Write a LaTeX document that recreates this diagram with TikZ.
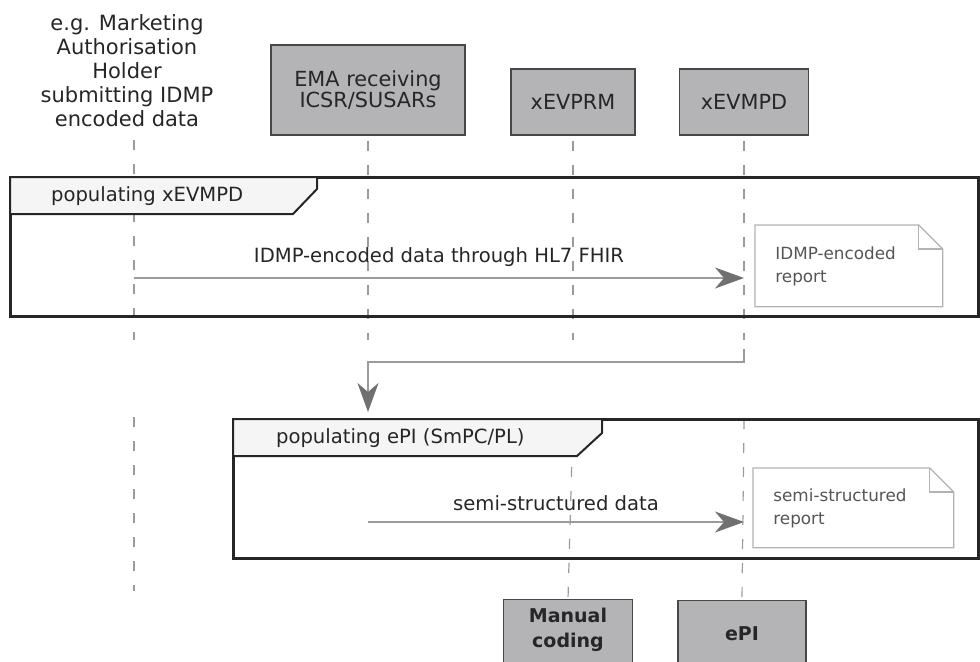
\documentclass[tikz,border=0pt]{standalone}
\usepackage{fontspec}
\setmainfont{DejaVu Sans}
\usetikzlibrary{arrows.meta}
\definecolor{boxgray}{RGB}{180,180,183}
\definecolor{tabgray}{RGB}{245,245,245}
\definecolor{inkgray}{RGB}{38,38,38}
\definecolor{linegray}{RGB}{155,155,155}
\definecolor{tipgray}{RGB}{112,112,112}
\definecolor{notegray}{RGB}{178,178,178}
\definecolor{notetext}{RGB}{85,85,85}
\begin{document}
\begin{tikzpicture}[x=0.5pt, y=-0.5pt, text=inkgray,
  actor/.style={draw=inkgray!85, line width=0.7pt, fill=boxgray, align=center,
    font=\fontsize{10.4}{10.5}\selectfont},
  lifeline/.style={draw=linegray, line width=0.6pt, dash pattern=on 5pt off 7pt},
  frameline/.style={draw=inkgray, line width=1.5pt},
  tabline/.style={draw=inkgray, line width=1pt, fill=tabgray},
  msg/.style={draw=linegray, line width=0.7pt,
    -{Stealth[length=14.5pt, width=10.5pt, inset=4.5pt, color=tipgray]}},
  note/.style={anchor=north west, align=left, inner xsep=10pt, text=notetext,
    font=\fontsize{8.4}{11.5}\selectfont},
  noteline/.style={draw=notegray, line width=0.6pt, line join=miter}]
  \useasboundingbox (0,0) rectangle (980,661);
  \clip (0,0) rectangle (980,661);
  % Participants (top)
  \node[align=center, font=\fontsize{10.5}{12}\selectfont] (mah) at (127,71)
    {e.g. Marketing\\Authorisation\\Holder\\submitting IDMP\\encoded data};
  \node[actor, minimum width=97pt, minimum height=45pt] (ema) at (368,90)
    {EMA receiving\\ICSR/SUSARs};
  \node[actor, minimum width=62pt, minimum height=33pt] (xevprm) at (573,102) {xEVPRM};
  \node[actor, minimum width=64.5pt, minimum height=33pt] (xevmpd) at (744,102) {xEVMPD};
  % Participants (bottom, cut by the page edge)
  \node[actor, anchor=north, minimum width=64.5pt, minimum height=45pt] (manualbox) at (568,599) {};
  \node[align=center, font=\fontsize{9.5}{12.5}\selectfont\bfseries] (manual) at (568,630) {Manual\\coding};
  \node[actor, anchor=north, minimum width=64pt, minimum height=45pt] (epibox) at (742,600) {};
  \node[font=\fontsize{9.5}{12.5}\selectfont\bfseries] (epi) at (742,634) {ePI};
  % Cuts of the lifelines between the two frames
  \coordinate (cutA) at (0,340);
  \coordinate (cutB) at (0,419);
  \coordinate (mahtop) at (134,140);
  \coordinate (mahend) at (134,591);
  % Lifelines (dashed vertical)
  \draw[lifeline] (mahtop) -- (mahtop |- cutA);
  \draw[lifeline] (ema.south) ++(0,5) -- (ema |- cutA);
  \draw[lifeline] (xevprm.south) ++(0,5) -- (xevprm |- cutA);
  \draw[lifeline] (xevmpd.south) ++(0,5) -- (xevmpd |- cutA);
  \draw[lifeline] (mahtop |- 0,417) -- (mahend);
  \draw[lifeline] (xevprm |- cutB) -- (manualbox.north);
  \draw[lifeline] (xevmpd |- cutB) -- (epibox.north);
  % Frame: populating xEVMPD
  \draw[frameline] (10,177) rectangle (978,316);
  \draw[tabline] (10,177) -- (317,177) -- (317,189) -- (293,214) -- (10,214) -- cycle;
  \node[anchor=west, font=\fontsize{9.8}{12}\selectfont] (frameA) at (44,196) {populating xEVMPD};
  % Frame: populating ePI
  \draw[frameline] (233,419) rectangle (978,558);
  \draw[tabline] (233,419) -- (602,419) -- (602,433) -- (577,456) -- (233,456) -- cycle;
  \node[anchor=west, font=\fontsize{9.8}{12}\selectfont] (frameB) at (269,438) {populating ePI (SmPC/PL)};
  % Messages
  \coordinate (m1s) at (mahtop |- 0,278);
  \coordinate (m1e) at (xevmpd |- 0,278);
  \draw[msg] (m1s) -- (m1e)
    node[midway, above=2pt, font=\fontsize{9.8}{12}\selectfont] (m1lbl) {IDMP-encoded data through HL7 FHIR};
  \coordinate (m2s) at (xevmpd |- 0,349);
  \coordinate (m2e) at (ema |- 0,412);
  \draw[msg] (m2s) -- ++(0,13) -| (m2e);
  \coordinate (m3s) at (ema |- 0,522);
  \coordinate (m3e) at (xevmpd |- 0,522);
  \draw[msg] (m3s) -- (m3e)
    node[midway, above=2pt, font=\fontsize{9.8}{12}\selectfont] (m3lbl) {semi-structured data};
  % Notes (folded corner)
  \node[note, text width=73.5pt, minimum height=40.5pt] (note1) at (755,225) {IDMP-encoded\\report};
  \node[note, text width=80pt, minimum height=39.5pt] (note2) at (753,468) {semi-structured\\report};
  \foreach \n in {note1,note2} {
    \draw[noteline] (\n.north west) -- ([xshift=-12pt]\n.north east)
      -- ([yshift=-12pt]\n.north east) -- (\n.south east) -- (\n.south west) -- cycle;
    \draw[noteline] ([xshift=-12pt]\n.north east) |- ([yshift=-12pt]\n.north east);
  }
\end{tikzpicture}
\end{document}
